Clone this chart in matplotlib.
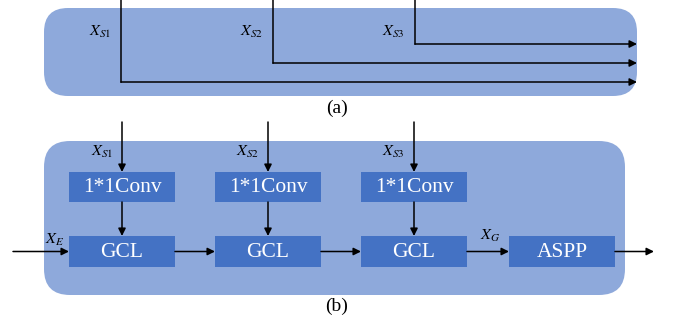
import matplotlib
matplotlib.use('Agg')
import matplotlib.pyplot as plt
from matplotlib.patches import FancyBboxPatch, Rectangle

plt.rcParams['font.family'] = ['Liberation Serif', 'DejaVu Serif']
plt.rcParams['mathtext.fontset'] = 'stix'

# diagram content
skip_labels = [r'$X_{S1}$', r'$X_{S2}$', r'$X_{S3}$']
conv_label = '1*1Conv'
block_labels = ['GCL', 'GCL', 'GCL', 'ASPP']
input_label = r'$X_{E}$'
gcl_out_label = r'$X_{G}$'
panel_labels = ['(a)', '(b)']

BG = '#8EA9DB'
BOX = '#4472C4'

fig = plt.figure(figsize=(6.73, 3.2), dpi=100)
ax = fig.add_axes([0, 0, 1, 1])
ax.set_xlim(0, 673)
ax.set_ylim(320, 0)
ax.axis('off')

def arrow(x0, y0, x1, y1):
    ax.annotate('', xy=(x1, y1), xytext=(x0, y0),
                arrowprops=dict(arrowstyle='-|>', color='black', lw=1.1,
                                mutation_scale=11, shrinkA=0, shrinkB=0))

# ---- panel (a): skip connections ----
ax.add_patch(FancyBboxPatch((44 + 24, 8 + 24), 593 - 48, 88 - 48,
                            boxstyle='round,pad=24', fc=BG, ec='none'))
xs_a = [121, 273, 415]
ys_a = [82, 63, 44]
for lab, x, y in zip(skip_labels, xs_a, ys_a):
    ax.plot([x, x], [0, y], color='black', lw=1.1)
    arrow(x, y, 637, y)
    ax.text(x - 10, 32, lab, fontsize=11.5, ha='right', va='center')
ax.text(337, 108, panel_labels[0], fontsize=14, ha='center', va='center')

# ---- panel (b): GCL chain ----
ax.add_patch(FancyBboxPatch((44 + 26, 141 + 26), 581 - 52, 154 - 52,
                            boxstyle='round,pad=26', fc=BG, ec='none'))
box_x = [69, 215, 361, 509]
box_w = 106
conv_y, conv_h = 172, 30
gcl_y, gcl_h = 236, 31
mid_y = gcl_y + gcl_h / 2

for i, lab in enumerate(block_labels):
    x = box_x[i]
    ax.add_patch(Rectangle((x, gcl_y), box_w, gcl_h, fc=BOX, ec='none'))
    ax.text(x + box_w / 2, mid_y + 1, lab, color='white', fontsize=15.5,
            ha='center', va='center')
    if i < 3:
        cx = x + box_w / 2
        ax.add_patch(Rectangle((x, conv_y), box_w, conv_h, fc=BOX, ec='none'))
        ax.text(cx, conv_y + conv_h / 2 + 1, conv_label, color='white',
                fontsize=15.5, ha='center', va='center')
        arrow(cx, 122, cx, conv_y)
        arrow(cx, conv_y + conv_h, cx, gcl_y)
        ax.text(cx - 9, 152, skip_labels[i], fontsize=11.5, ha='right', va='center')

# horizontal flow
arrow(13, mid_y, box_x[0], mid_y)
for i in range(3):
    arrow(box_x[i] + box_w, mid_y, box_x[i + 1], mid_y)
arrow(box_x[3] + box_w, mid_y, 654, mid_y)
ax.text(45, 240, input_label, fontsize=11.5, ha='left', va='center')
ax.text(480, 236, gcl_out_label, fontsize=11.5, ha='left', va='center')
ax.text(337, 306, panel_labels[1], fontsize=14, ha='center', va='center')

fig.savefig('out.png', dpi=100, facecolor='white')
